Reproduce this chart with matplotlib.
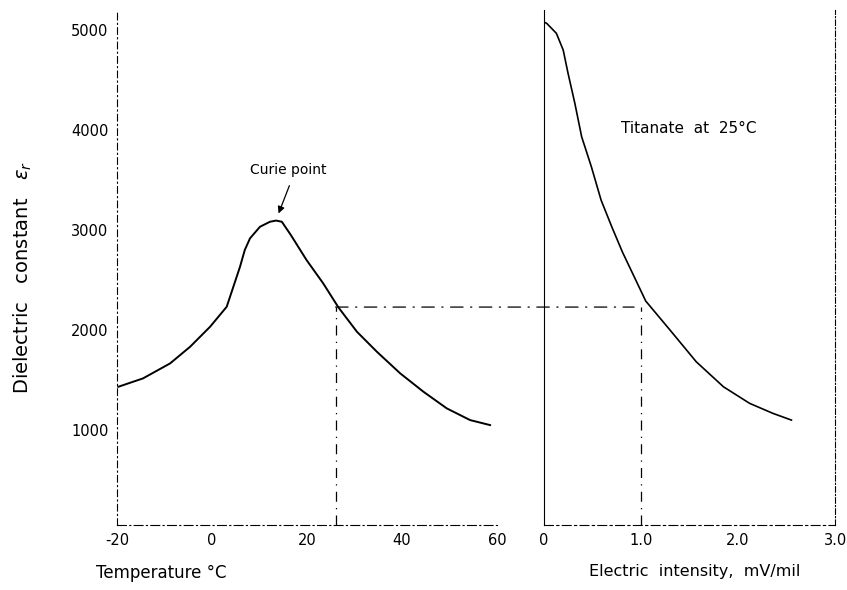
import matplotlib.pyplot as plt
from matplotlib.patches import ConnectionPatch

# Dielectric constant vs temperature (barium titanate)
temp_c = [-19.7, -14.5, -8.8, -4.6, -0.4, 3.1, 4.5, 5.9, 6.9, 8.0, 10.1, 12.2, 13.5,
          14.7, 16.6, 19.9, 23.4, 26.6, 30.5, 34.7, 39.6, 44.5, 49.4, 54.3, 58.5]
eps_temp = [1433, 1517, 1667, 1833, 2033, 2233, 2433, 2633, 2800, 2917, 3033, 3083, 3095,
            3083, 2950, 2700, 2467, 2227, 1983, 1783, 1567, 1383, 1217, 1100, 1050]

# Dielectric constant vs electric intensity at 25 C
field = [0.0, 0.03, 0.13, 0.20, 0.25, 0.32, 0.39, 0.49, 0.59, 0.70, 0.81, 1.05,
         1.30, 1.57, 1.85, 2.12, 2.36, 2.55]
eps_field = [5080, 5067, 4967, 4800, 4567, 4267, 3933, 3633, 3300, 3033, 2780, 2290,
             2000, 1683, 1433, 1267, 1167, 1100]

temp_ticks = [-20, 0, 20, 40, 60]
temp_ticklabels = ["-20", "0", "20", "40", "60"]
field_ticks = [0, 1.0, 2.0, 3.0]
field_ticklabels = ["0", "1.0", "2.0", "3.0"]
eps_ticks = [1000, 2000, 3000, 4000, 5000]

# operating point read across from 25 C to the field curve
t_op, e_op, eps_op = 26, 1.0, 2230

fig = plt.figure(figsize=(8.47, 5.9), dpi=100)
ax1 = fig.add_axes([0.138, 0.110, 0.449, 0.873])
ax2 = fig.add_axes([0.642, 0.110, 0.344, 0.873], sharey=ax1)

ax1.plot(temp_c, eps_temp, color="black", lw=1.4)
ax2.plot(field, eps_field, color="black", lw=1.2)

ax1.set_xlim(-20, 60)
ax1.set_ylim(50, 5200)
ax2.set_xlim(0, 3.0)

for ax in (ax1, ax2):
    ax.spines["top"].set_visible(False)
    ax.tick_params(length=0, labelsize=10.5, pad=6)
ax1.spines["right"].set_visible(False)
ax1.spines["left"].set_linestyle((0, (6, 3, 1, 3)))
ax1.spines["bottom"].set_linestyle((0, (8, 3, 1, 3)))
ax2.spines["right"].set_linestyle((0, (5, 2, 1, 2)))
ax2.spines["bottom"].set_linestyle((0, (8, 3, 2, 3)))

ax1.set_xticks(temp_ticks, temp_ticklabels)
ax1.set_yticks(eps_ticks, [str(v) for v in eps_ticks])
ax2.set_xticks(field_ticks, field_ticklabels)
ax2.tick_params(axis="y", labelleft=False)

# dashed construction lines
ax1.plot([t_op, t_op], [50, eps_op], color="black", lw=0.9, ls=(0, (8, 5, 1, 5)))
ax2.plot([e_op, e_op], [50, eps_op], color="black", lw=0.9, ls=(0, (8, 5, 1, 5)))
con = ConnectionPatch(xyA=(t_op, eps_op), coordsA=ax1.transData,
                      xyB=(e_op - 0.07, eps_op), coordsB=ax2.transData,
                      color="black", lw=0.9, ls=(0, (10, 6, 1, 6)))
fig.add_artist(con)

ax1.text(8, 3600, "Curie point", fontsize=10, va="center", ha="left")
ax1.annotate("", xy=(13.8, 3140), xytext=(16.5, 3470),
             arrowprops=dict(arrowstyle="-|>", color="black", lw=0.9))
ax2.text(0.79, 4020, "Titanate  at  25°C", fontsize=11, va="center", ha="left")

fig.text(0.027, 0.53, "Dielectric   constant   $\\varepsilon_r$", rotation=90,
         fontsize=14, va="center", ha="center")
fig.text(0.19, 0.028, "Temperature °C", fontsize=12, ha="center", va="center")
fig.text(0.82, 0.032, "Electric  intensity,  mV/mil", fontsize=11.5, ha="center", va="center")

fig.savefig("out.png", dpi=100)
